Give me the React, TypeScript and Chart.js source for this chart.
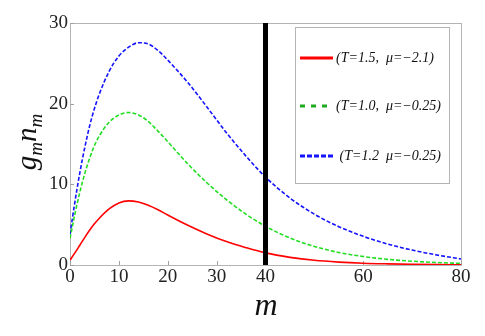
import { useEffect, useRef } from "react";
import { Chart, registerables } from "chart.js";

Chart.register(...registerables);

// ---- data ----
const mValues = [0, 1, 2, 3, 4, 5, 6, 8, 10, 12, 14, 16, 18, 20, 24, 28, 32, 36, 40, 45, 50, 55, 60, 65, 70, 75, 80];
const redSeries = [0.6, 1.5, 2.45, 3.4, 4.3, 5.1, 5.8, 6.95, 7.7, 7.95, 7.8, 7.4, 6.85, 6.2, 4.95, 3.85, 2.9, 2.15, 1.5, 0.95, 0.58, 0.36, 0.22, 0.14, 0.085, 0.05, 0.03];
const greenSeries = [3.3, 6.3, 9.0, 11.3, 13.2, 14.8, 16.0, 17.7, 18.6, 18.9, 18.6, 17.8, 16.6, 15.3, 12.6, 10.2, 8.1, 6.3, 4.8, 3.35, 2.3, 1.55, 1.05, 0.7, 0.47, 0.31, 0.2];
const blueSeries = [3.8, 7.8, 11.4, 14.5, 17.2, 19.4, 21.2, 24.0, 25.9, 27.0, 27.55, 27.4, 26.6, 25.4, 22.7, 19.6, 16.4, 13.5, 10.9, 8.3, 6.3, 4.75, 3.55, 2.6, 1.85, 1.25, 0.75];
const markerM = 40;
const markerRange = [0, 30];
const xTickValues = [0, 10, 20, 30, 40, 60, 80];
const yTickValues = [0, 10, 20, 30];
const legendLabels = ["(T=1.5,  \u03bc=\u22122.1)", "(T=1.0,  \u03bc=\u22120.25)", " (T=1.2  \u03bc=\u22120.25)"];

const RED = "#ff0000";
const GREEN = "#22dd22";
const BLUE = "#1414ff";
const SERIF = "'Liberation Serif', 'DejaVu Serif', serif";

const toPoints = (ys: number[]) => mValues.map((m, i) => ({ x: m, y: ys[i] }));

const decorPlugin = {
  id: "decor",
  beforeDatasetsDraw(chart: any) {
    const { ctx, chartArea: a, scales } = chart;
    ctx.save();
    ctx.strokeStyle = "#b4b4b4";
    ctx.lineWidth = 1;
    ctx.strokeRect(Math.round(a.left) + 0.5, Math.round(a.top) + 0.5, Math.round(a.right - a.left), Math.round(a.bottom - a.top));
    // inward ticks
    ctx.strokeStyle = "#a0a0a0";
    ctx.beginPath();
    xTickValues.forEach((v) => {
      const x = Math.round(scales.x.getPixelForValue(v)) + 0.5;
      ctx.moveTo(x, a.bottom);
      ctx.lineTo(x, a.bottom - 4);
    });
    yTickValues.forEach((v) => {
      const y = Math.round(scales.y.getPixelForValue(v)) + 0.5;
      ctx.moveTo(a.left, y);
      ctx.lineTo(a.left + 4, y);
    });
    ctx.stroke();
    ctx.restore();
  },
  afterDraw(chart: any) {
    const { ctx } = chart;
    ctx.save();
    // legend box
    const bx = 295, by = 27, bw = 154, bh = 156;
    ctx.fillStyle = "#ffffff";
    ctx.fillRect(bx, by, bw, bh);
    ctx.strokeStyle = "#b4b4b4";
    ctx.lineWidth = 1;
    ctx.strokeRect(bx + 0.5, by + 0.5, bw, bh);
    const rows = [
      { y: 58, color: RED, dash: [] as number[], tx: 336 },
      { y: 106, color: "#1faa1f", dash: [5, 6], tx: 336 },
      { y: 156, color: BLUE, dash: [5, 2], tx: 336 },
    ];
    rows.forEach((r, i) => {
      ctx.strokeStyle = r.color;
      ctx.lineWidth = 3;
      ctx.setLineDash(r.dash);
      ctx.beginPath();
      ctx.moveTo(300, r.y);
      ctx.lineTo(333, r.y);
      ctx.stroke();
      ctx.setLineDash([]);
      ctx.fillStyle = "#111";
      ctx.font = `italic 14px ${SERIF}`;
      ctx.textBaseline = "middle";
      ctx.textAlign = "left";
      ctx.fillText(legendLabels[i], r.tx, r.y);
    });
    // x title
    ctx.fillStyle = "#111";
    ctx.font = `italic 32px ${SERIF}`;
    ctx.textAlign = "center";
    ctx.textBaseline = "alphabetic";
    ctx.fillText("m", 266, 315);
    // y title  g_m n_m
    const segs: [string, number, number][] = [
      ["g", 29, 0],
      ["m", 19, 6],
      ["n", 29, 0],
      ["m", 19, 6],
    ];
    let w = 0;
    const widths = segs.map(([t, s]) => {
      ctx.font = `italic ${s}px ${SERIF}`;
      const mw = ctx.measureText(t).width;
      w += mw;
      return mw;
    });
    ctx.translate(36, 142 + w / 2);
    ctx.rotate(-Math.PI / 2);
    ctx.textAlign = "left";
    let x = 0;
    segs.forEach(([t, s, off], i) => {
      ctx.font = `italic ${s}px ${SERIF}`;
      ctx.fillText(t, x, off);
      x += widths[i];
    });
    ctx.restore();
  },
};

export default function App() {
  const ref = useRef<HTMLCanvasElement | null>(null);
  useEffect(() => {
    if (!ref.current) return;
    const chart = new Chart(ref.current, {
      type: "line",
      data: {
        datasets: [
          {
            label: "marker",
            data: [
              { x: markerM, y: markerRange[0] },
              { x: markerM, y: markerRange[1] },
            ],
            borderColor: "#000",
            borderWidth: 5,
            pointRadius: 0,
            order: -1,
          },
          {
            label: legendLabels[0],
            data: toPoints(redSeries),
            borderColor: RED,
            borderWidth: 1.6,
            pointRadius: 0,
            cubicInterpolationMode: "monotone",
          },
          {
            label: legendLabels[1],
            data: toPoints(greenSeries),
            borderColor: GREEN,
            borderWidth: 1.6,
            borderDash: [4, 2],
            pointRadius: 0,
            cubicInterpolationMode: "monotone",
          },
          {
            label: legendLabels[2],
            data: toPoints(blueSeries),
            borderColor: BLUE,
            borderWidth: 1.6,
            borderDash: [4, 2],
            pointRadius: 0,
            cubicInterpolationMode: "monotone",
          },
        ],
      },
      options: {
        responsive: false,
        animation: false,
        layout: { padding: { top: 23, right: 24, left: 0, bottom: 0 } },
        plugins: { legend: { display: false }, tooltip: { enabled: false } },
        scales: {
          x: {
            type: "linear",
            min: 0,
            max: 80,
            afterBuildTicks: (s: any) => {
              s.ticks = xTickValues.map((v) => ({ value: v }));
            },
            afterFit: (s: any) => {
              s.height = 71;
            },
            ticks: {
              autoSkip: false,
              maxRotation: 0,
              padding: 1,
              color: "#222",
              font: { family: SERIF, size: 19 },
            },
            grid: { display: false, drawTicks: false },
            border: { display: false },
          },
          y: {
            min: 0,
            max: 30,
            afterBuildTicks: (s: any) => {
              s.ticks = yTickValues.map((v) => ({ value: v }));
            },
            afterFit: (s: any) => {
              s.width = 70;
            },
            ticks: {
              padding: 2,
              color: "#222",
              font: { family: SERIF, size: 19 },
            },
            grid: { display: false, drawTicks: false },
            border: { display: false },
          },
        },
      },
      plugins: [decorPlugin],
    } as any);
    return () => chart.destroy();
  }, []);
  return (
    <div style={{ position: "fixed", left: 0, top: 0, width: 485, height: 336, background: "#fff" }}>
      <canvas ref={ref} width={485} height={336} style={{ display: "block" }} />
    </div>
  );
}
